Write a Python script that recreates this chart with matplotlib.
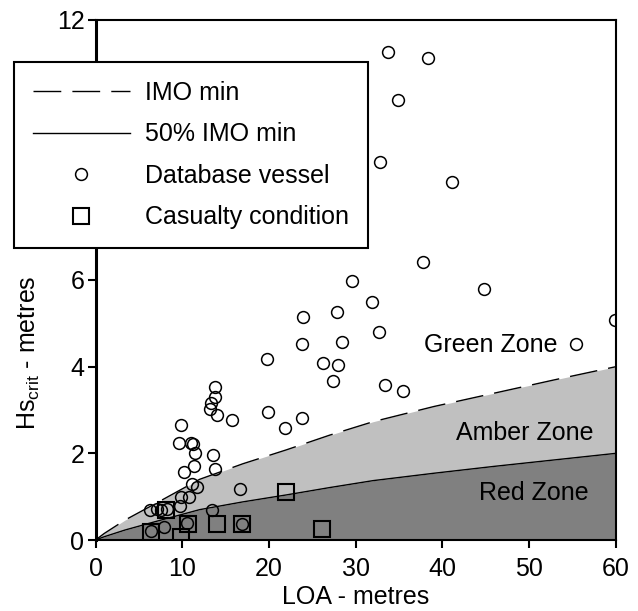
import matplotlib
matplotlib.use("Agg")
import matplotlib.pyplot as plt

# IMO minimum curve and 50% of it
loa_curve = [0, 1, 3.4, 7, 12, 17, 22, 27, 32, 39, 46, 53, 60]
imo_min = [0, 0.15, 0.46, 0.85, 1.40, 1.76, 2.08, 2.42, 2.73, 3.08, 3.39, 3.70, 4.00]
imo_half = [0, 0.075, 0.23, 0.43, 0.70, 0.88, 1.04, 1.21, 1.37, 1.54, 1.70, 1.85, 2.00]

# database vessels
vessel_loa = [33.7, 38.3, 34.9, 32.8, 41.1, 37.7, 29.6, 44.8, 31.9, 27.8,
              23.9, 32.7, 28.4, 23.8, 55.4, 59.9, 26.2, 28.0, 27.4, 33.4,
              35.5, 23.8, 19.8, 13.8, 13.8, 13.3, 13.2, 14.0, 15.7, 19.9,
              21.9, 9.9, 9.6, 11.0, 11.2, 11.5, 13.6, 11.3, 13.8, 10.2,
              11.1, 11.7, 16.7, 9.8, 10.8, 9.7, 13.4, 6.3, 7.1, 7.6,
              8.2, 7.9, 6.4, 10.6, 16.9]
vessel_hs = [11.26, 11.12, 10.15, 8.72, 8.26, 6.42, 5.97, 5.80, 5.49, 5.26,
             5.15, 4.79, 4.57, 4.53, 4.52, 5.08, 4.09, 4.04, 3.66, 3.58,
             3.44, 2.81, 4.17, 3.53, 3.30, 3.17, 3.02, 2.88, 2.77, 2.95,
             2.58, 2.66, 2.23, 2.24, 2.21, 2.00, 1.97, 1.71, 1.64, 1.57,
             1.30, 1.23, 1.18, 0.99, 0.99, 0.78, 0.69, 0.69, 0.71, 0.70,
             0.71, 0.31, 0.21, 0.39, 0.36]

# casualty conditions
casualty_loa = [8.1, 6.4, 10.7, 14.0, 16.9, 22.0, 26.1, 9.9]
casualty_hs = [0.70, 0.19, 0.37, 0.37, 0.37, 1.10, 0.25, 0.07]

plt.rcParams['font.family'] = ['Liberation Sans', 'DejaVu Sans']
plt.rcParams['mathtext.default'] = 'regular'
plt.rcParams['font.size'] = 18

fig = plt.figure(figsize=(6.38, 6.11), dpi=100)
ax = fig.add_axes([0.1497, 0.1162, 0.8158, 0.8511])

ax.fill_between(loa_curve, 0, imo_half, color='#808080', lw=0, zorder=1)
ax.fill_between(loa_curve, imo_half, imo_min, color='#c0c0c0', lw=0, zorder=1)
ax.plot(loa_curve, imo_min, color='black', lw=1, dashes=(20, 8),
        label='IMO min', zorder=2)
ax.plot(loa_curve, imo_half, color='black', lw=1, label='50% IMO min', zorder=2)
ax.plot(vessel_loa, vessel_hs, 'o', ms=8.5, mfc='none', mec='black', mew=1.1,
        label='Database vessel', zorder=3)
ax.plot(casualty_loa, casualty_hs, 's', ms=11, mfc='none', mec='black',
        mew=1.5, label='Casualty condition', zorder=4)

ax.text(53.2, 4.5, 'Green Zone', ha='right', va='center')
ax.text(57.4, 2.47, 'Amber Zone', ha='right', va='center')
ax.text(56.8, 1.08, 'Red Zone', ha='right', va='center')

ax.set_xlim(0, 60)
ax.set_ylim(0, 12)
ax.set_xticks(range(0, 61, 10))
ax.set_yticks(range(0, 13, 2))
ax.tick_params(direction='out', length=6, width=1.5, pad=2)
ax.tick_params(axis='x', pad=6)
for side in ['top', 'right', 'bottom']:
    ax.spines[side].set_linewidth(1.5)
ax.spines['left'].set_linewidth(2.2)

ax.set_xlabel('LOA - metres', labelpad=3)
ax.set_ylabel('Hs$_{crit}$ - metres')
ax.yaxis.set_label_coords(-0.103, 0.36)

leg = ax.legend(loc='upper left', bbox_to_anchor=(0.0219, 0.8985),
                bbox_transform=fig.transFigure, borderaxespad=0,
                handlelength=3.9, handletextpad=0.6, borderpad=0.75,
                labelspacing=0.7, fancybox=False, framealpha=1,
                edgecolor='black')
leg.get_frame().set_linewidth(1.5)
leg.set_zorder(10)

fig.savefig('out.png', dpi=100)
